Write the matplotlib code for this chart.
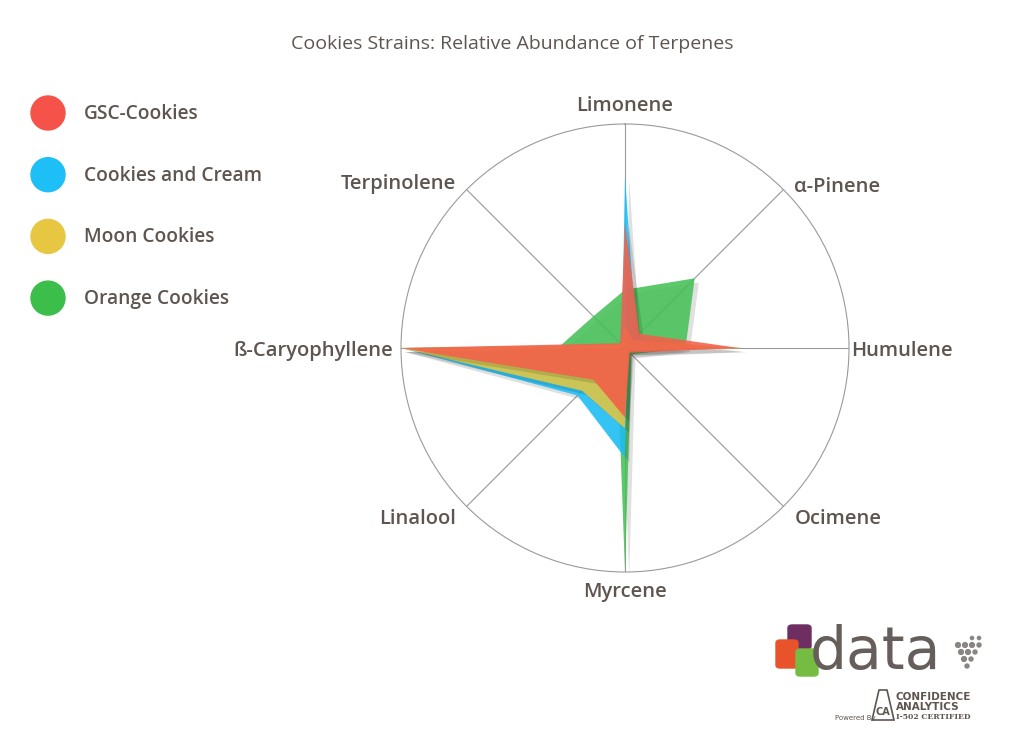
import numpy as np
import matplotlib
matplotlib.use("Agg")
import matplotlib.pyplot as plt
import matplotlib.patheffects as pe
from matplotlib.patches import FancyBboxPatch, Ellipse, Polygon

categories = ['Limonene', 'α-Pinene', 'Humulene', 'Ocimene', 'Myrcene',
              'Linalool', 'ß-Caryophyllene', 'Terpinolene']
series_names = ['GSC-Cookies', 'Cookies and Cream', 'Moon Cookies', 'Orange Cookies']
gsc = [0.56, 0.09, 0.51, 0.03, 0.31, 0.20, 1.0, 0.03]
cream = [0.77, 0.07, 0.25, 0.02, 0.49, 0.30, 1.0, 0.02]
moon = [0.10, 0.05, 0.53, 0.02, 0.36, 0.27, 1.0, 0.02]
orange = [0.26, 0.44, 0.27, 0.04, 1.0, 0.05, 0.30, 0.20]

legend_colors = ['#F5524A', '#1DBFF6', '#E7C642', '#3CBE4B']
fill_colors = ['#F5604A', '#1DBFF6', '#E2C845', '#46C157']
text_color = '#5E5550'
FONT = 'Open Sans'

W, H = 1024, 740
fig = plt.figure(figsize=(W / 100, H / 100), dpi=100)
fig.patch.set_facecolor('white')

cx, cy, R = 625, 348, 224
ax = fig.add_axes([(cx - R) / W, (H - cy - R) / H, 2 * R / W, 2 * R / H], projection='polar')
ax.set_theta_zero_location('N')
ax.set_theta_direction(-1)
ax.set_ylim(0, 1)
n = len(categories)
angles = np.arange(n) * 2 * np.pi / n
ax.set_xticks(angles)
ax.set_xticklabels([])
ax.set_yticks([])
ax.xaxis.grid(True, color='#9a9a9a', linewidth=0.8)
ax.yaxis.grid(False)
ax.spines['polar'].set_color('#9a9a9a')
ax.spines['polar'].set_linewidth(0.8)
ax.set_facecolor('none')

data = [gsc, cream, moon, orange]
order = [3, 1, 2, 0]
shadow = [pe.SimplePatchShadow(offset=(3, -3), shadow_rgbFace='#000000', alpha=0.12), pe.Normal()]
closed = np.concatenate([angles, angles[:1]])
for i in order:
    vals = np.array(data[i] + data[i][:1])
    poly = ax.fill(closed, vals, color=fill_colors[i], alpha=0.88, linewidth=0, zorder=3 + order.index(i))
    for p in poly:
        p.set_path_effects(shadow)

# axis labels: radius, ha, va, vertical pixel nudge
lab_specs = {
    'Limonene': (1.06, 'center', 'bottom', -5),
    'α-Pinene': (1.07, 'left', 'center', -8),
    'Humulene': (1.01, 'left', 'center', -3),
    'Ocimene': (1.07, 'left', 'center', -2),
    'Myrcene': (1.04, 'center', 'top', -1),
    'Linalool': (1.07, 'right', 'center', -2),
    'ß-Caryophyllene': (1.035, 'right', 'center', -3),
    'Terpinolene': (1.07, 'right', 'center', -5),
}
for ang, cat in zip(angles, categories):
    r, ha, va, dy = lab_specs[cat]
    ax.annotate(cat, xy=(ang, r), xytext=(0, dy), textcoords='offset pixels',
                ha=ha, va=va, fontsize=14.5, color=text_color,
                family=[FONT, 'DejaVu Sans'], fontweight='semibold', annotation_clip=False)

# title
fig.text(512 / W, 1 - 44 / H, 'Cookies Strains: Relative Abundance of Terpenes',
         ha='center', va='center', fontsize=14, color=text_color, family=[FONT, 'DejaVu Sans'])

# legend
for k, (name, col) in enumerate(zip(series_names, legend_colors)):
    y = 113 + k * 61.7
    circ = Ellipse((48 / W, 1 - y / H), 34 / W, 34 / H, color=col, transform=fig.transFigure)
    fig.patches.append(circ)
    fig.text(84 / W, 1 - (y + 1) / H, name, ha='left', va='center', fontsize=13.8,
             color=text_color, family=[FONT, 'DejaVu Sans'], fontweight='semibold')

# logo
def rbox(x0, y0, w, h, col):
    b = FancyBboxPatch((x0 / W, 1 - (y0 + h) / H), w / W, h / H,
                       boxstyle='round,pad=0,rounding_size=0.004', color=col,
                       transform=fig.transFigure)
    fig.patches.append(b)

rbox(788, 625, 23, 24, '#6E2E62')
rbox(776, 640, 22, 28, '#E9532B')
rbox(796, 649, 22, 27, '#76BC43')
fig.text(810 / W, 1 - 653 / H, 'data', ha='left', va='center', fontsize=42,
         color='#655E5A', family=['DejaVu Sans'], fontweight='normal')
for (dx, dy, s) in [(958, 645, 3), (965, 645, 3), (972, 645, 3), (979, 645, 2.5),
                    (961, 652, 3), (968, 652, 3), (975, 652, 2.5), (964, 659, 3),
                    (971, 659, 2.5), (967, 666, 2.5), (972, 638, 2), (979, 638, 2)]:
    fig.patches.append(Ellipse((dx / W, 1 - dy / H), s / W * 1.6, s / H * 1.6,
                               color='#8a8583', transform=fig.transFigure))
fig.text(896 / W, 1 - 697 / H, 'CONFIDENCE', ha='left', va='center', fontsize=7.5,
         fontweight='bold', color='#5E5550', family=['DejaVu Sans'])
fig.text(896 / W, 1 - 707 / H, 'ANALYTICS', ha='left', va='center', fontsize=7.5,
         fontweight='bold', color='#5E5550', family=['DejaVu Sans'])
fig.text(896 / W, 1 - 717 / H, 'I-502 CERTIFIED', ha='left', va='center', fontsize=5.5,
         fontweight='bold', color='#5E5550', family=['DejaVu Serif'])
fig.text(835 / W, 1 - 718 / H, 'Powered By', ha='left', va='center', fontsize=5,
         color='#5E5550', family=['DejaVu Sans'])
tri = Polygon([(879 / W, 1 - 690 / H), (887 / W, 1 - 690 / H), (894 / W, 1 - 720 / H),
               (872 / W, 1 - 720 / H)], closed=True, facecolor='white', edgecolor='#5E5550',
              linewidth=1.2, transform=fig.transFigure)
fig.patches.append(tri)
fig.text(883 / W, 1 - 712 / H, 'CA', ha='center', va='center', fontsize=7, fontweight='bold',
         color='#5E5550', family=['DejaVu Sans'])

fig.savefig('out.png', dpi=100, facecolor='white')
